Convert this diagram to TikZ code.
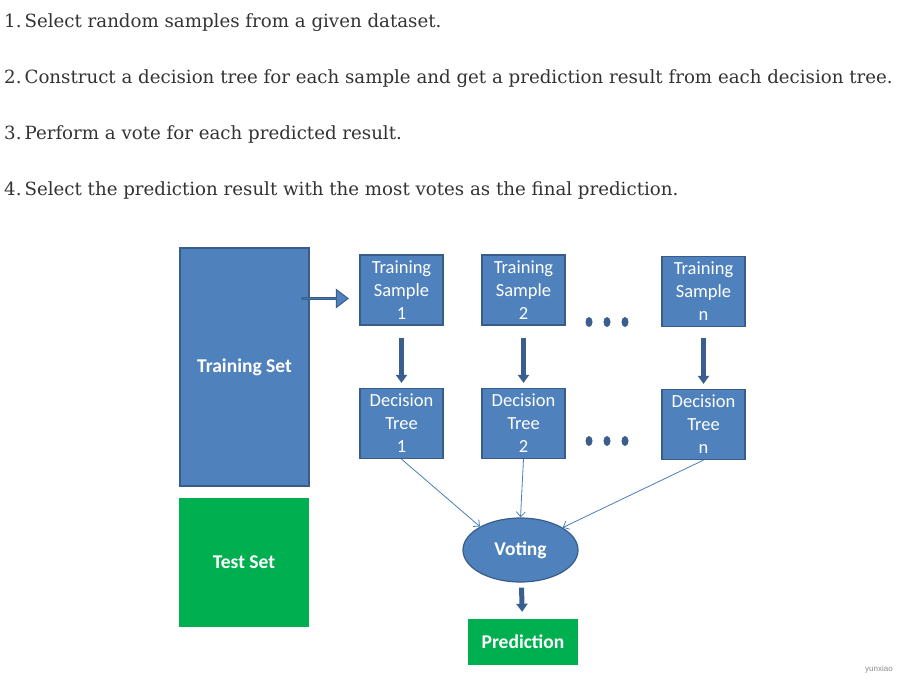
\documentclass[tikz,border=0pt]{standalone}
\usepackage{fontspec}
\setmainfont{DejaVu Serif}
\newfontfamily\boxfont{Carlito}
\newfontfamily\markfont{Liberation Sans}
\usetikzlibrary{arrows.meta,shapes.geometric,shapes.arrows}
\definecolor{boxblue}{RGB}{79,129,189}
\definecolor{boxline}{RGB}{56,93,138}
\definecolor{setgreen}{RGB}{0,176,80}
\definecolor{arrowblue}{RGB}{58,95,143}
\definecolor{linkblue}{RGB}{74,126,187}
\definecolor{stepgray}{RGB}{51,51,51}
\tikzset{
  step line/.style={anchor=base west, inner sep=0pt, text=stepgray,
    font=\fontsize{18.2}{22}\selectfont},
  sample box/.style={rectangle, fill=boxblue, draw=boxline, line width=1.2pt,
    text=white, align=center, inner sep=0pt,
    minimum width=83pt, minimum height=70pt,
    font=\boxfont\fontsize{18.5}{23}\selectfont},
  set box/.style={rectangle, inner sep=0pt, text=white,
    font=\boxfont\bfseries\fontsize{19.5}{22}\selectfont},
  more dot/.style={ellipse, fill=arrowblue, inner sep=0pt,
    minimum width=7pt, minimum height=10pt}
}
\begin{document}
\begin{tikzpicture}[x=1pt, y=-1pt]
  \useasboundingbox (0,0) rectangle (901,683);
  \fill[white] (0,0) rectangle (901,683);
  % the four steps
  \node[step line] (s1) at (4,27)  {1.\,Select random samples from a given dataset.};
  \node[step line] (s2) at (4,83)  {2.\,Construct a decision tree for each sample and get a prediction result from each decision tree.};
  \node[step line] (s3) at (4,139) {3.\,Perform a vote for each predicted result.};
  \node[step line] (s4) at (4,195) {4.\,Select the prediction result with the most votes as the final prediction.};
  % sets
  \node[set box, fill=boxblue, draw=boxline, line width=1.2pt,
        minimum width=129pt, minimum height=238pt] (trainset) at (244.5,367) {Training Set};
  \node[set box, fill=setgreen, minimum width=130pt, minimum height=129pt] (testset) at (244,562.5) {Test Set};
  % samples and trees
  \begin{scope}[every node/.style={sample box}]
    \node (ts1) at (401.5,290) {Training\\Sample\\1};
    \node (ts2) at (523.5,290) {Training\\Sample\\2};
    \node (tsn) at (703.5,291.5) {Training\\Sample\\n};
    \node (dt1) at (401.5,423.5) {Decision\\Tree\\1};
    \node (dt2) at (523.5,423.5) {Decision\\Tree\\2};
    \node (dtn) at (703.5,424.5) {Decision\\Tree\\n};
  \end{scope}
  \foreach \x in {589,607,625} {
    \node[more dot] at (\x,322) {};
    \node[more dot] at (\x,441) {};
  }
  % voting and result
  \node[set box, ellipse, fill=boxblue, draw=boxline, line width=1.2pt,
        minimum width=115pt, minimum height=64pt] (vote) at (520.5,550) {Voting};
  \node[set box, fill=setgreen, minimum width=110pt, minimum height=46pt] (pred) at (523,642) {Prediction};
  \node[single arrow, fill=boxblue, draw=boxline, line width=1pt, inner sep=0pt,
        minimum height=46pt, minimum width=18pt, single arrow head extend=5pt,
        single arrow tip angle=75] (push) at (324.5,298.5) {};
  \node[anchor=east, inner sep=0pt, text=black!45, font=\markfont\fontsize{8}{9}\selectfont] (mark) at (893,669) {yunxiao};
  \begin{scope}[every edge/.style={draw=arrowblue, line width=5pt,
      -{Triangle[width=11pt, length=8pt]}}]
    \path (ts1) edge[shorten <=12pt, shorten >=5pt] (dt1);
    \path (ts2) edge[shorten <=12pt, shorten >=5pt] (dt2);
    \path (tsn) edge[shorten <=11pt, shorten >=5pt] (dtn);
    \path (vote) edge[shorten <=5pt, shorten >=7pt] (pred);
  \end{scope}
  \begin{scope}[every edge/.style={draw=linkblue, line width=0.8pt,
      -{Straight Barb[length=5pt, width=9pt]}}]
    \path (dt1.south) edge (vote.150);
    \path (dt2.south) edge (vote.north);
    \path (dtn.south) edge (vote.28);
  \end{scope}
\end{tikzpicture}
\end{document}
